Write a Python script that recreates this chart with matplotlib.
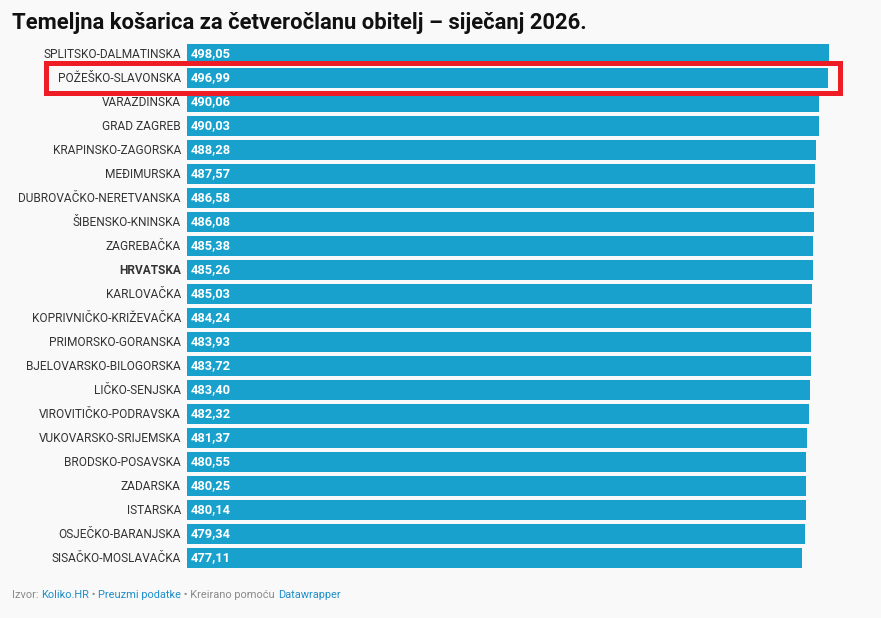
import matplotlib
matplotlib.use("Agg")
import matplotlib.pyplot as plt
from matplotlib.patches import Rectangle

plt.rcParams['font.family'] = ['Roboto', 'DejaVu Sans']

# data
counties = [
    'SPLITSKO-DALMATINSKA', 'POŽEŠKO-SLAVONSKA', 'VARAŽDINSKA', 'GRAD ZAGREB',
    'KRAPINSKO-ZAGORSKA', 'MEĐIMURSKA', 'DUBROVAČKO-NERETVANSKA', 'ŠIBENSKO-KNINSKA',
    'ZAGREBAČKA', 'HRVATSKA', 'KARLOVAČKA', 'KOPRIVNIČKO-KRIŽEVAČKA',
    'PRIMORSKO-GORANSKA', 'BJELOVARSKO-BILOGORSKA', 'LIČKO-SENJSKA',
    'VIROVITIČKO-PODRAVSKA', 'VUKOVARSKO-SRIJEMSKA', 'BRODSKO-POSAVSKA',
    'ZADARSKA', 'ISTARSKA', 'OSJEČKO-BARANJSKA', 'SISAČKO-MOSLAVAČKA',
]
prices = [
    498.05, 496.99, 490.06, 490.03, 488.28, 487.57, 486.58, 486.08,
    485.38, 485.26, 485.03, 484.24, 483.93, 483.72, 483.40, 482.32,
    481.37, 480.55, 480.25, 480.14, 479.34, 477.11,
]
highlight = 'POŽEŠKO-SLAVONSKA'
bold_label = 'HRVATSKA'

W, H = 881, 618
bg = '#f9f9f9'
bar_color = '#18a1cd'

fig = plt.figure(figsize=(W / 100, H / 100), dpi=100, facecolor=bg)

# axes placed in pixels: bars from x=187, rows 54..558
left, right = 187, 829
top, bottom = 42, 570
ax = fig.add_axes([left / W, 1 - bottom / H, (right - left) / W, (bottom - top) / H])
ax.set_facecolor(bg)

ypos = list(range(len(counties)))
ax.barh(ypos, prices, height=0.83, color=bar_color)
ax.set_xlim(0, prices[0])
ax.set_ylim(len(counties) - 0.5, -0.5)
ax.axis('off')

for y, name, val in zip(ypos, counties, prices):
    ax.text(-0.0095 * prices[0], y, name, ha='right', va='center', fontsize=8.6,
            color='#333333', fontweight='bold' if name == bold_label else 'normal')
    ax.text(0.006 * prices[0], y, f'{val:.2f}'.replace('.', ','), ha='left',
            va='center', fontsize=9.3, color='white', fontweight='bold')

# red box around highlighted row
box = Rectangle((45.5 / W, 1 - 92.5 / H), 794 / W, 29 / H, transform=fig.transFigure,
                fill=False, edgecolor='#ee1c25', linewidth=3.6)
fig.patches.append(box)

# title
fig.text(12 / W, 1 - 22.5 / H, 'Temeljna košarica za četveročlanu obitelj – siječanj 2026.',
         ha='left', va='center', fontsize=15.8, fontweight='bold', color='#111111')

# footer with mixed colours, each piece placed after the width of the text before it
parts = [('Izvor: ', '#8a8a8a'), ('Koliko.HR', '#1d8fcb'), (' • ', '#8a8a8a'),
         ('Preuzmi podatke', '#1d8fcb'), (' • Kreirano pomoću ', '#8a8a8a'),
         ('Datawrapper', '#1d8fcb')]
renderer = fig.canvas.get_renderer()
prefix = ''
for txt, col in parts:
    offset = 0
    if prefix:
        probe = fig.text(0, 0, prefix + '|', fontsize=7.9)
        bar_probe = fig.text(0, 0, '|', fontsize=7.9)
        offset = (probe.get_window_extent(renderer=renderer).width
                  - bar_probe.get_window_extent(renderer=renderer).width)
        probe.remove()
        bar_probe.remove()
    fig.text((12 + offset) / W, 1 - 595 / H, txt, ha='left', va='center',
             fontsize=7.9, color=col)
    prefix += txt

fig.savefig('out.png', dpi=100, facecolor=bg)
